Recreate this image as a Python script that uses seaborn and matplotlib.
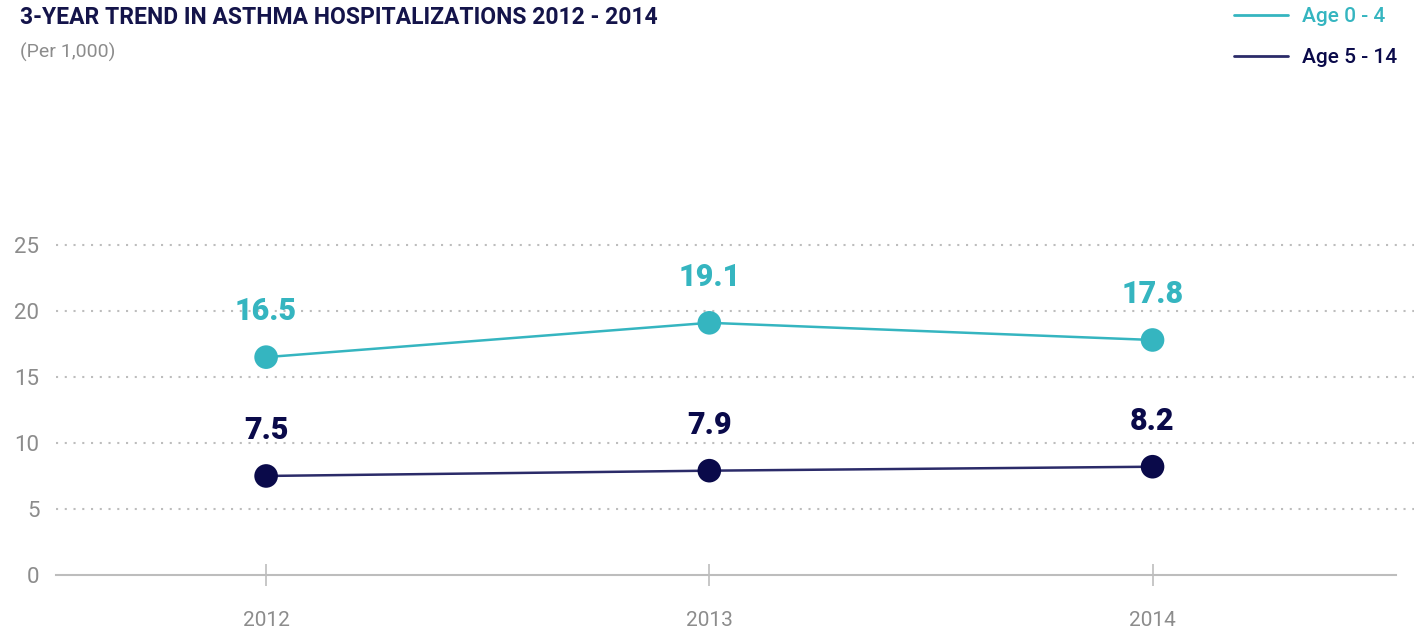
import matplotlib
matplotlib.use("Agg")
import matplotlib.pyplot as plt
import seaborn as sns
import pandas as pd
from matplotlib.lines import Line2D

years = ["2012", "2013", "2014"]
series_names = ["Age 0 - 4", "Age 5 - 14"]
age_0_4 = [16.5, 19.1, 17.8]
age_5_14 = [7.5, 7.9, 8.2]
y_ticks = [0, 5, 10, 15, 20, 25]

title = "3-YEAR TREND IN ASTHMA HOSPITALIZATIONS 2012 - 2014"
subtitle = "(Per 1,000)"

teal = "#35B5C0"
navy_marker = "#0A0A4A"
navy_line = "#2B2B69"
title_col = "#14144A"
gray_text = "#8C8C8C"
grid_col = "#BDBDBD"

df = pd.DataFrame({
    "year": years * 2,
    "x": list(range(len(years))) * 2,
    "value": age_0_4 + age_5_14,
    "series": [series_names[0]] * 3 + [series_names[1]] * 3,
})

sns.set_theme(style="white")
plt.rcParams["font.family"] = ["Roboto", "DejaVu Sans"]

fig = plt.figure(figsize=(14.22, 6.34), dpi=100)
ax = fig.add_axes([0.0394, 0.0931, 0.955, 0.531])

sns.lineplot(data=df, x="x", y="value", hue="series",
             palette={series_names[0]: teal, series_names[1]: navy_line},
             linewidth=1.8, legend=False, ax=ax, zorder=3)
sns.scatterplot(data=df, x="x", y="value", hue="series",
                palette={series_names[0]: teal, series_names[1]: navy_marker},
                s=17**2, edgecolor="none", legend=False, ax=ax, zorder=4)

label_cols = {series_names[0]: teal, series_names[1]: navy_marker}
for _, r in df.iterrows():
    ax.annotate(f"{r['value']:.1f}", (r["x"], r["value"]), xytext=(0, 33),
                textcoords="offset points", ha="center", va="center",
                fontsize=22, fontweight="black", color=label_cols[r["series"]])

x_left = -0.474
ax.set_xlim(x_left, 2.59)
ax.set_ylim(0, 25.5)
ax.set_yticks(y_ticks)
ax.set_xticks(range(len(years)))
ax.set_xticklabels(years)
ax.set_xlabel("")
ax.set_ylabel("")

for t in y_ticks[1:]:
    ax.axhline(t, color=grid_col, linestyle=(0, (1, 3.2)), linewidth=1.5, zorder=1)

for s in ["top", "right", "left"]:
    ax.spines[s].set_visible(False)
ax.spines["bottom"].set_color(grid_col)
ax.spines["bottom"].set_linewidth(1.5)
ax.spines["bottom"].set_bounds(x_left, 2.55)

ax.tick_params(axis="y", left=False, length=0, pad=12, labelsize=16, labelcolor=gray_text)
ax.tick_params(axis="x", bottom=True, direction="inout", length=16, width=1.2,
               color=grid_col, pad=18, labelsize=15, labelcolor=gray_text)
for lab in ax.get_yticklabels() + ax.get_xticklabels():
    lab.set_fontweight("normal")

fig.text(0.014, 0.972, title, fontsize=16.5, fontweight="bold", color=title_col,
         ha="left", va="center")
fig.text(0.014, 0.918, subtitle, fontsize=14, fontweight="normal", color=gray_text,
         ha="left", va="center")

handles = [Line2D([0], [0], color=teal, lw=2), Line2D([0], [0], color=navy_line, lw=2)]
fig.legend(handles, series_names, loc="upper right", bbox_to_anchor=(0.996, 1.018),
           frameon=False, fontsize=15, handlelength=2.6, handletextpad=0.7,
           labelspacing=1.05, labelcolor=[teal, navy_marker],
           prop={"size": 15, "weight": "medium"})

fig.savefig("out.png", dpi=100)
